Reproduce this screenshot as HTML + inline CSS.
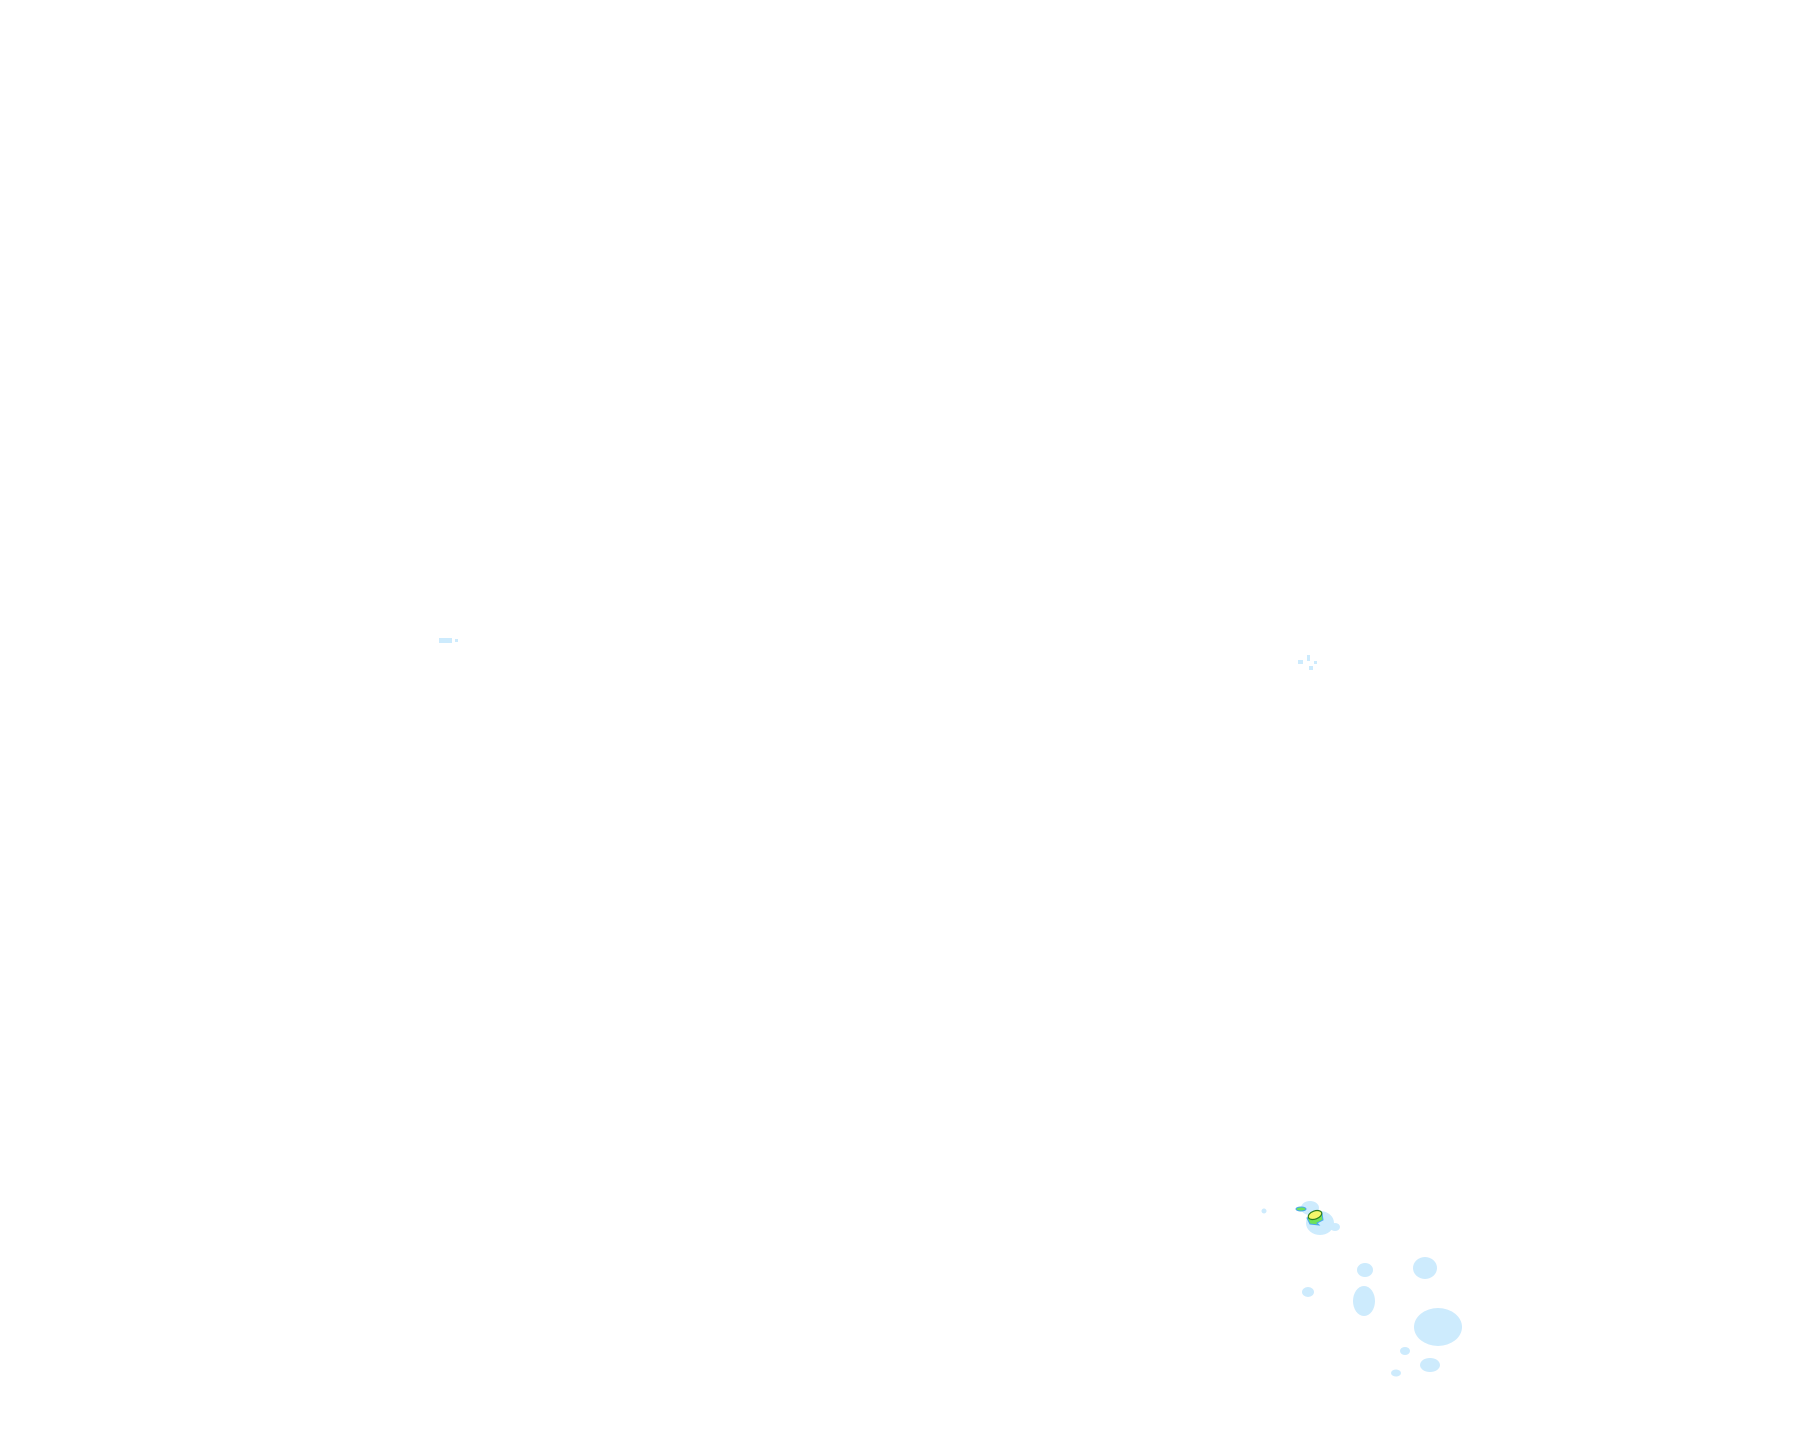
<!DOCTYPE html>
<html><head><style>html,body{margin:0;padding:0;background:#fff;}</style></head>
<body>
<svg width="1815" height="1424" viewBox="0 0 1815 1424" xmlns="http://www.w3.org/2000/svg">
<rect width="1815" height="1424" fill="#fff"/>
<g fill="#cdebfd">
<rect x="439" y="638" width="13" height="5"/>
<rect x="455" y="639" width="3" height="3"/>
<rect x="1298" y="660" width="5" height="4"/>
<rect x="1307" y="655" width="3" height="6"/>
<rect x="1314" y="661" width="3" height="3"/>
<rect x="1309" y="666" width="4" height="4"/>
<circle cx="1264" cy="1211" r="2.5"/>
<ellipse cx="1310" cy="1208" rx="9" ry="7"/>
<ellipse cx="1320" cy="1223" rx="14" ry="12"/>
<ellipse cx="1335" cy="1227" rx="5" ry="4"/>
<ellipse cx="1425" cy="1268" rx="12" ry="11"/>
<ellipse cx="1365" cy="1270" rx="8" ry="7"/>
<ellipse cx="1364" cy="1301" rx="11" ry="15"/>
<ellipse cx="1308" cy="1292" rx="6" ry="5"/>
<ellipse cx="1438" cy="1327" rx="24" ry="19"/>
<ellipse cx="1405" cy="1351" rx="5" ry="4"/>
<ellipse cx="1430" cy="1365" rx="10" ry="7"/>
<ellipse cx="1396" cy="1373" rx="5" ry="3.5"/>
</g>
<ellipse cx="1301" cy="1209" rx="5" ry="2" fill="#6fe25a" stroke="#4aa8f0" stroke-width="1"/>
<path d="M1307 1218 L1322 1213 L1323 1220 L1317 1223 L1319 1225 L1310 1224 Z" fill="#6fe25a" stroke="#4aa8f0" stroke-width="1"/>
<ellipse cx="1315" cy="1215" rx="7" ry="4" fill="#f6f66a" stroke="#2e7d20" stroke-width="1.2" transform="rotate(-20 1315 1215)"/>
</svg>
</body></html>
